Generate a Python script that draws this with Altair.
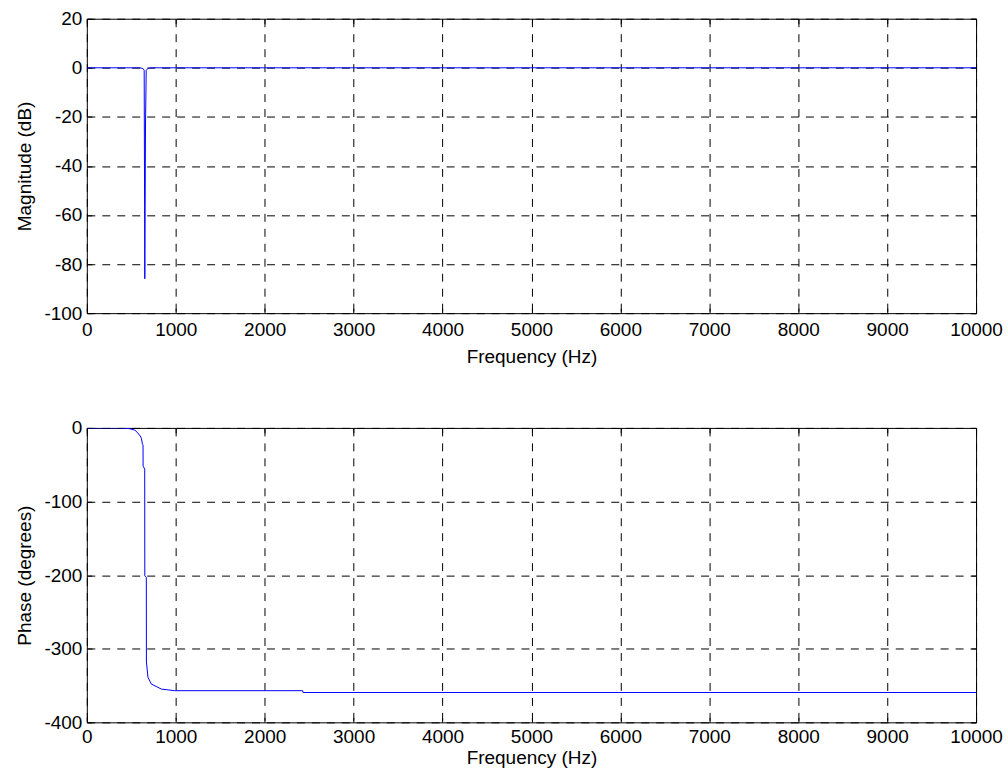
import altair as alt
import pandas as pd

# ---- data ----
mag_freq = [0, 600, 630, 645, 652, 660, 668, 690, 720, 10000]
mag_db = [0, 0, -0.3, -1.0, -86, -22.5, -1.0, -0.2, 0, 0]

ph_freq = [0, 390, 480, 540, 575, 600, 614, 625, 632, 633, 651, 652, 669, 670,
           688, 726, 838, 988, 2428, 2432, 10000]
ph_deg = [0, 0, -1, -3, -7, -11, -14, -22, -23, -52, -56, -201, -203, -318,
          -339, -348, -354.8, -357, -357, -359.5, -359.5]

x_ticks = [0, 1000, 2000, 3000, 4000, 5000, 6000, 7000, 8000, 9000, 10000]
mag_ticks = [20, 0, -20, -40, -60, -80, -100]
ph_ticks = [0, -100, -200, -300, -400]

FONT = "Liberation Sans"
FS = 19
W, H = 891, 295
INWARD = {"expr": "-5"}


def panel(df, ytitle, ydomain, yticks, xlabpad, xtitlepad):
    base = alt.Chart(df)
    line = base.mark_line(color="#0000ff", strokeWidth=1, clip=True).encode(
        x=alt.X("f:Q",
                scale=alt.Scale(domain=[0, 10000], nice=False, zero=False),
                axis=alt.Axis(values=x_ticks, title="Frequency (Hz)",
                              grid=True, gridDash=[8, 7], gridColor="#000000",
                              gridWidth=1, tickSize=INWARD,
                              labelPadding=xlabpad, labelFlush=False,
                              labelExpr="datum.value + ''",
                              titlePadding=xtitlepad, domain=False)),
        y=alt.Y("v:Q",
                scale=alt.Scale(domain=ydomain, nice=False, zero=False),
                axis=alt.Axis(values=yticks, title=ytitle,
                              grid=True, gridDash=[8, 7], gridColor="#000000",
                              gridWidth=1, tickSize=INWARD, labelPadding=10,
                              labelFlush=False,
                              labelExpr="datum.value + ''", titlePadding=9,
                              domain=False)),
    )
    frame = base.mark_line(opacity=0).encode(
        x=alt.X("f:Q",
                scale=alt.Scale(domain=[0, 10000], nice=False, zero=False),
                axis=alt.Axis(orient="top", values=x_ticks, title=None,
                              labels=False, grid=False, tickSize=INWARD,
                              domain=False)),
        y=alt.Y("v:Q",
                scale=alt.Scale(domain=ydomain, nice=False, zero=False),
                axis=alt.Axis(orient="right", values=yticks, title=None,
                              labels=False, grid=False, tickSize=INWARD,
                              domain=False)),
    )
    return alt.layer(line, frame).resolve_axis(
        x="independent", y="independent"
    ).properties(width=W, height=H)


mag_df = pd.DataFrame({"f": mag_freq, "v": mag_db})
ph_df = pd.DataFrame({"f": ph_freq, "v": ph_deg})

top = panel(mag_df, "Magnitude (dB)", [-100, 20], mag_ticks, 12, 8)
bottom = panel(ph_df, "Phase (degrees)", [-400, 0], ph_ticks, 10, 2)

chart = alt.vconcat(top, bottom, spacing=115, bounds="flush").properties(
    padding={"left": 15, "top": 8, "right": 5, "bottom": 5},
    background="white",
).configure_view(
    stroke="#000000", strokeWidth=1
).configure_axis(
    labelFont=FONT, labelFontSize=FS, labelColor="#000000",
    titleFont=FONT, titleFontSize=FS, titleColor="#000000",
    titleFontWeight="normal", tickColor="#000000", tickWidth=1,
)

chart.save("out.html", embed_options={"renderer": "svg", "actions": False})
